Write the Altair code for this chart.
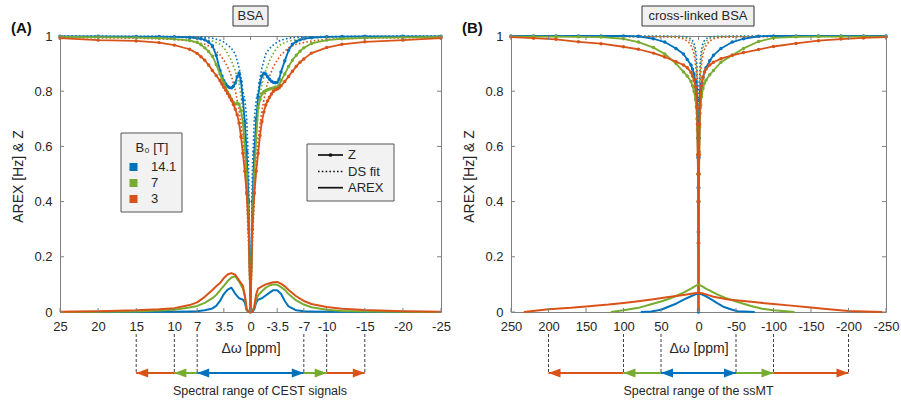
import altair as alt
import pandas as pd

B0_FIELDS = ["14.1", "7", "3"]
B0_COLORS = ["#0072BD", "#77AC30", "#D95319"]
YTICKS = [0, 0.2, 0.4, 0.6, 0.8, 1]

# ---------------- Panel A : BSA ----------------
XTICKS_A = [25, 20, 15, 10, 7, 3.5, 0, -3.5, -7, -10, -15, -20, -25]
CEST_LIMITS = [7, 10, 15]

ZA_PPM = [25, 20, 15, 12, 10, 8, 7, 6.5, 6, 5.5, 5, 4.5, 4, 3.75, 3.5, 3.25, 3, 2.75, 2.5, 2.25, 2, 1.75, 1.5, 1.25, 1, 0.75, 0.5, 0.25,
          0,
          -0.25, -0.5, -0.75, -1, -1.25, -1.5, -1.75, -2, -2.25, -2.5, -2.75, -3, -3.25, -3.5, -3.75, -4, -4.5, -5, -5.5, -6, -6.5, -7, -8, -10, -12, -15, -20, -25]
ZA_141 = [.999, .999, .998, .998, .997, .995, .992, .99, .986, .978, .965, .93, .875, .855, .838, .826, .818, .813, .812, .818, .83, .852, .866, .835, .77, .69, .58, .40,
          0.0,
          .40, .58, .70, .78, .83, .855, .865, .862, .852, .843, .836, .832, .831, .832, .843, .87, .91, .948, .97, .98, .986, .99, .994, .997, .998, .999, .999, .999]
ZA_7 = [.997, .996, .994, .992, .989, .984, .977, .968, .957, .944, .927, .897, .862, .845, .83, .812, .797, .785, .772, .76, .753, .757, .753, .73, .685, .60, .50, .33,
        .005,
        .33, .50, .63, .74, .77, .79, .798, .802, .805, .808, .81, .812, .814, .815, .822, .838, .862, .89, .912, .93, .945, .957, .973, .985, .99, .993, .995, .997]
ZA_3 = [.992, .985, .982, .976, .967, .952, .937, .925, .912, .895, .875, .857, .838, .826, .814, .803, .792, .78, .767, .752, .735, .715, .685, .635, .575, .51, .43, .30,
        .01,
        .30, .43, .51, .575, .64, .69, .725, .75, .765, .778, .79, .80, .805, .808, .812, .82, .835, .853, .872, .89, .905, .917, .938, .958, .97, .979, .985, .992]

DSA_PPM = [25, 15, 10, 8, 6, 5, 4, 3.5, 3, 2.5, 2, 1.5, 1.25, 1, 0.75, 0.5, 0.25, 0,
           -0.25, -0.5, -0.75, -1, -1.25, -1.5, -2, -2.5, -3, -3.5, -4, -5, -6, -8, -10, -15, -25]
DSA_141 = [1.0, .999, .998, .997, .995, .992, .985, .978, .968, .955, .935, .885, .85, .80, .77, .70, .52, 0.0,
           .52, .70, .77, .80, .85, .885, .935, .955, .968, .978, .985, .992, .995, .997, .998, .999, 1.0]
DSA_7 = [.998, .997, .995, .993, .987, .982, .97, .958, .937, .91, .875, .825, .785, .725, .645, .50, .30, .005,
         .30, .50, .645, .725, .785, .825, .875, .91, .937, .958, .97, .982, .987, .993, .995, .997, .998]
DSA_3 = [.995, .992, .988, .982, .97, .958, .932, .912, .888, .855, .805, .73, .68, .62, .53, .41, .24, .01,
         .24, .41, .53, .62, .68, .73, .805, .855, .888, .912, .932, .958, .97, .982, .988, .992, .995]

ARA_PPM = [25, 20, 15, 12, 10, 8, 7, 6, 5, 4.5, 4, 3.5, 3, 2.5, 2, 1.5, 1, 0.75, 0.5, 0.25, 0,
           -0.25, -0.5, -0.75, -1, -1.5, -2, -2.5, -3, -3.5, -4, -4.5, -5, -6, -7, -8, -10, -12, -15, -20, -25]
ARA_141 = [0, 0, 0, .001, .001, .002, .003, .006, .013, .022, .04, .065, .081, .088, .066, .05, .045, .035, .006, 0, 0,
           0, .01, .035, .045, .05, .06, .07, .079, .079, .066, .04, .02, .006, .003, .002, .001, .001, 0, 0, 0]
ARA_7 = [0, .001, .002, .005, .008, .016, .022, .033, .05, .062, .078, .095, .112, .125, .13, .11, .085, .06, .01, 0, 0,
         0, .02, .045, .06, .075, .088, .096, .10, .099, .09, .08, .065, .042, .027, .017, .008, .004, .002, .001, 0]
ARA_3 = [.001, .003, .006, .01, .014, .025, .035, .055, .08, .093, .105, .123, .136, .141, .135, .115, .095, .06, .01, 0, 0,
         0, .02, .065, .085, .093, .10, .104, .108, .109, .103, .093, .08, .057, .04, .029, .018, .012, .007, .003, .001]

# ---------------- Panel B : cross-linked BSA ----------------
XTICKS_B = [250, 200, 150, 100, 50, 0, -50, -100, -150, -200, -250]
SSMT_LIMITS = [50, 100, 200]

ZB_PPM = [250, 220, 190, 160, 130, 100, 80, 60, 45, 30, 20, 15, 10, 8, 6, 4, 3, 2, 1.5, 1, 0.75, 0.5, 0.25,
          0,
          -0.25, -0.5, -0.75, -1, -1.5, -2, -3, -4, -6, -8, -10, -15, -20, -30, -45, -60, -80, -100, -130, -160, -190, -220, -250]
ZB_141 = [1, 1, 1, 1, 1, 1, .999, .99, .978, .955, .935, .915, .895, .88, .862, .835, .81, .77, .72, .63, .56, .45, .29,
          0.0,
          .29, .45, .56, .63, .72, .77, .80, .825, .85, .87, .885, .91, .93, .955, .978, .99, .999, 1, 1, 1, 1, 1, 1]
ZB_7 = [.998, .998, .998, .997, .996, .99, .978, .958, .935, .90, .87, .855, .835, .82, .80, .77, .745, .70, .66, .57, .50, .40, .25,
        .005,
        .25, .40, .50, .58, .67, .72, .75, .78, .81, .83, .84, .86, .875, .905, .93, .955, .98, .993, .997, .998, .998, .998, .998]
ZB_3 = [.996, .992, .988, .979, .972, .961, .952, .938, .924, .907, .895, .885, .868, .855, .84, .815, .79, .74, .68, .57, .50, .40, .25,
        .01,
        .25, .40, .50, .57, .68, .74, .79, .82, .85, .87, .88, .895, .905, .918, .93, .94, .951, .962, .973, .983, .989, .993, .996]

DSB_PPM = [250, 100, 50, 30, 20, 14, 10, 7, 5, 3, 2, 1, 0.5, 0,
           -0.5, -1, -2, -3, -5, -7, -10, -14, -20, -30, -50, -100, -250]
DSB_141 = [1, 1, 1, .999, .998, .996, .99, .98, .965, .93, .89, .80, .62, 0.0,
           .62, .80, .89, .93, .965, .98, .99, .996, .998, .999, 1, 1, 1]
DSB_7 = [1, .999, .998, .997, .995, .99, .98, .965, .945, .90, .86, .75, .55, .005,
         .55, .75, .86, .90, .945, .965, .98, .99, .995, .997, .998, .999, 1]
DSB_3 = [.999, .998, .997, .995, .99, .98, .965, .945, .92, .87, .82, .70, .50, .01,
         .50, .70, .82, .87, .92, .945, .965, .98, .99, .995, .997, .998, .999]

ARB_141_PPM = [77, 63, 50, 41, 30, 19, 10, 5, 0, -5, -10, -17, -25, -34, -45, -52, -75]
ARB_141 = [0, .002, .008, .018, .03, .046, .057, .063, .068, .063, .057, .046, .032, .018, .008, .003, 0]
ARB_7_PPM = [117, 100, 80, 63, 50, 40, 30, 20, 10, 5, 0, -5, -10, -25, -35, -48, -60, -70, -85, -100, -128]
ARB_7 = [0, .006, .015, .028, .038, .047, .058, .07, .085, .093, .10, .093, .085, .064, .052, .04, .03, .022, .012, .006, 0]
ARB_3_PPM = [233, 200, 170, 150, 120, 100, 80, 60, 40, 20, 10, 5, 0, -5, -10, -20, -40, -60, -80, -100, -120, -150, -170, -200, -245]
ARB_3 = [0, .01, .015, .02, .027, .033, .039, .046, .054, .062, .066, .068, .07, .068, .064, .055, .045, .04, .034, .029, .024, .016, .011, .004, 0]

AX = "#808080"
TXT = "#262626"
FONT = "Liberation Sans"
H = 276
ONE = alt.Data(values=[{"a": 1}])
LEFT_HEAD = "M0,0L2,-0.75L2,0.75Z"
RIGHT_HEAD = "M0,0L-2,-0.75L-2,0.75Z"
DOT_DASH = [1.6, 2.2]


def sdf(ppm, vals):
    return pd.DataFrame({"ppm": ppm, "val": vals})


def make_panel(width, xmax, xticks, z_sets, ds_sets, ar_sets, limits, box, title_text,
               letter, note_text, note_x, with_legend):
    xs = alt.Scale(domain=[-xmax, xmax], reverse=True, nice=False, zero=False)
    ys = alt.Scale(domain=[0, 1], nice=False, zero=False)
    cscale = alt.Scale(domain=B0_FIELDS, range=B0_COLORS)
    xaxis = alt.Axis(values=xticks, labelExpr="'' + datum.value", title="Δω [ppm]",
                     titleY=40, titleBaseline="alphabetic", labelPadding=8,
                     labelFlush=False, labelOverlap=False)
    yaxis = alt.Axis(values=YTICKS, labelExpr="'' + datum.value", title="AREX [Hz] & Z",
                     titleX=-38, titleY=H / 2 + 2, titleBaseline="alphabetic", labelPadding=8,
                     labelOverlap=False)

    def X(field):
        return alt.X(field, type="quantitative", scale=xs, axis=xaxis)

    def Y(field):
        return alt.Y(field, type="quantitative", scale=ys, axis=yaxis)

    layers = []
    for b0, col, (p, v) in zip(B0_FIELDS, B0_COLORS, ds_sets):
        layers.append(alt.Chart(sdf(p, v)).mark_line(color=col, strokeWidth=1.6, strokeDash=DOT_DASH)
                      .encode(x=X("ppm"), y=Y("val")))
    for b0, col, (p, v) in zip(B0_FIELDS, B0_COLORS, z_sets):
        layers.append(alt.Chart(sdf(p, v)).mark_line(
            color=col, strokeWidth=1.8, strokeJoin="round",
            point=alt.OverlayMarkDef(filled=True, size=12, opacity=1, color=col))
            .encode(x=X("ppm"), y=Y("val")))
    for b0, col, (p, v) in zip(B0_FIELDS, B0_COLORS, ar_sets):
        layers.append(alt.Chart(sdf(p, v)).mark_line(color=col, strokeWidth=2, strokeJoin="round")
                      .encode(x=X("ppm"), y=Y("val")))

    # inward ticks
    xt = pd.DataFrame({"t": xticks})
    yt = pd.DataFrame({"t": YTICKS})
    layers.append(alt.Chart(xt).mark_rule(color=AX).encode(x=X("t"), y=alt.value(H), y2=alt.value(H - 4)))
    layers.append(alt.Chart(xt).mark_rule(color=AX).encode(x=X("t"), y=alt.value(0), y2=alt.value(4)))
    layers.append(alt.Chart(yt).mark_rule(color=AX).encode(y=Y("t"), x=alt.value(0), x2=alt.value(4)))
    layers.append(alt.Chart(yt).mark_rule(color=AX).encode(y=Y("t"), x=alt.value(width - 4), x2=alt.value(width)))

    # spectral-range arrows below the axis
    shafts, lheads, rheads, dashes = [], [], [], []
    prev = None
    for b0, lim in zip(B0_FIELDS, limits):
        if prev is None:
            shafts.append({"s": -lim, "e": lim, "B0": b0})
        else:
            shafts.append({"s": prev, "e": lim, "B0": b0})
            shafts.append({"s": -prev, "e": -lim, "B0": b0})
        lheads.append({"p": lim, "B0": b0})
        rheads.append({"p": -lim, "B0": b0})
        dashes += [{"p": lim}, {"p": -lim}]
        prev = lim
    cenc = alt.Color("B0:N", scale=cscale, legend=None)
    layers.append(alt.Chart(pd.DataFrame(dashes)).mark_rule(color="#404040", strokeDash=[3, 2], strokeWidth=1)
                  .encode(x=X("p"), y=alt.value(298), y2=alt.value(337)))
    layers.append(alt.Chart(pd.DataFrame(shafts)).mark_rule(strokeWidth=2)
                  .encode(x=X("s"), x2="e:Q", y=alt.value(337), color=cenc))
    layers.append(alt.Chart(pd.DataFrame(lheads)).mark_point(shape=LEFT_HEAD, filled=True, size=144, opacity=1)
                  .encode(x=X("p"), y=alt.value(337), color=cenc))
    layers.append(alt.Chart(pd.DataFrame(rheads)).mark_point(shape=RIGHT_HEAD, filled=True, size=144, opacity=1)
                  .encode(x=X("p"), y=alt.value(337), color=cenc))
    layers.append(alt.Chart(ONE).mark_text(text=note_text, fontSize=12.5, color=TXT, baseline="alphabetic")
                  .encode(x=alt.value(note_x), y=alt.value(359)))

    # boxed title and panel letter
    bx0, bx1 = box
    layers.append(alt.Chart(ONE).mark_rect(fill="#f0f0f0", stroke="#333333", strokeWidth=1)
                  .encode(x=alt.value(bx0), x2=alt.value(bx1), y=alt.value(-30), y2=alt.value(-10)))
    layers.append(alt.Chart(ONE).mark_text(text=title_text, fontSize=13, color=TXT, baseline="middle")
                  .encode(x=alt.value((bx0 + bx1) / 2), y=alt.value(-20)))
    layers.append(alt.Chart(ONE).mark_text(text=letter, fontSize=15, fontWeight="bold", color="#111111",
                                           align="left", baseline="middle")
                  .encode(x=alt.value(-49), y=alt.value(-8)))

    if with_legend:
        # B0 legend
        layers.append(alt.Chart(ONE).mark_rect(fill="#f2f2f2", stroke="#555555", strokeWidth=1)
                      .encode(x=alt.value(61), x2=alt.value(122), y=alt.value(97), y2=alt.value(176)))
        layers.append(alt.Chart(ONE).mark_text(text="B\u2080 [T]", fontSize=13, color=TXT, baseline="middle")
                      .encode(x=alt.value(92), y=alt.value(112)))
        for b0, col, ry in zip(B0_FIELDS, B0_COLORS, [131, 147, 163]):
            layers.append(alt.Chart(ONE).mark_square(size=64, filled=True, opacity=1, color=col)
                          .encode(x=alt.value(73.5), y=alt.value(ry)))
            layers.append(alt.Chart(ONE).mark_text(text=b0, fontSize=13, color=TXT, align="left", baseline="middle")
                          .encode(x=alt.value(91), y=alt.value(ry)))
        # line-type legend
        layers.append(alt.Chart(ONE).mark_rect(fill="#f2f2f2", stroke="#555555", strokeWidth=1)
                      .encode(x=alt.value(247), x2=alt.value(334), y=alt.value(108), y2=alt.value(165)))
        for name, ry, dash in [("Z", 119, None), ("DS fit", 135.5, DOT_DASH), ("AREX", 151.7, None)]:
            kw = {"strokeDash": dash} if dash else {}
            layers.append(alt.Chart(ONE).mark_rule(color="#111111", strokeWidth=1.7, **kw)
                          .encode(x=alt.value(258), x2=alt.value(283), y=alt.value(ry)))
            layers.append(alt.Chart(ONE).mark_text(text=name, fontSize=13, color=TXT, align="left", baseline="middle")
                          .encode(x=alt.value(288), y=alt.value(ry)))
        layers.append(alt.Chart(ONE).mark_circle(size=14, opacity=1, color="#111111")
                      .encode(x=alt.value(270.5), y=alt.value(119)))

    return alt.layer(*layers).properties(width=width, height=H)


panel_a = make_panel(
    381, 25, XTICKS_A,
    [(ZA_PPM, ZA_141), (ZA_PPM, ZA_7), (ZA_PPM, ZA_3)],
    [(DSA_PPM, DSA_141), (DSA_PPM, DSA_7), (DSA_PPM, DSA_3)],
    [(ARA_PPM, ARA_141), (ARA_PPM, ARA_7), (ARA_PPM, ARA_3)],
    CEST_LIMITS, (173, 208), "BSA", "(A)", "Spectral range of CEST signals", 200, True)

panel_b = make_panel(
    375, 250, XTICKS_B,
    [(ZB_PPM, ZB_141), (ZB_PPM, ZB_7), (ZB_PPM, ZB_3)],
    [(DSB_PPM, DSB_141), (DSB_PPM, DSB_7), (DSB_PPM, DSB_3)],
    [(ARB_141_PPM, ARB_141), (ARB_7_PPM, ARB_7), (ARB_3_PPM, ARB_3)],
    SSMT_LIMITS, (131, 243), "cross-linked BSA", "(B)", "Spectral range of the ssMT", 187.5, False)

chart = (
    alt.hconcat(panel_a, panel_b, spacing=70, bounds="flush")
    .properties(padding={"left": 10, "top": 5, "right": 0, "bottom": 0}, background="white")
    .configure(font=FONT)
    .configure_view(stroke=AX, strokeWidth=1)
    .configure_axis(domain=False, ticks=False, grid=False, labelFont=FONT, labelFontSize=13,
                    labelColor=TXT, titleFont=FONT, titleFontSize=14, titleFontWeight="normal",
                    titleColor=TXT)
)

chart.save("out.html", embed_options={"renderer": "svg", "actions": False})
